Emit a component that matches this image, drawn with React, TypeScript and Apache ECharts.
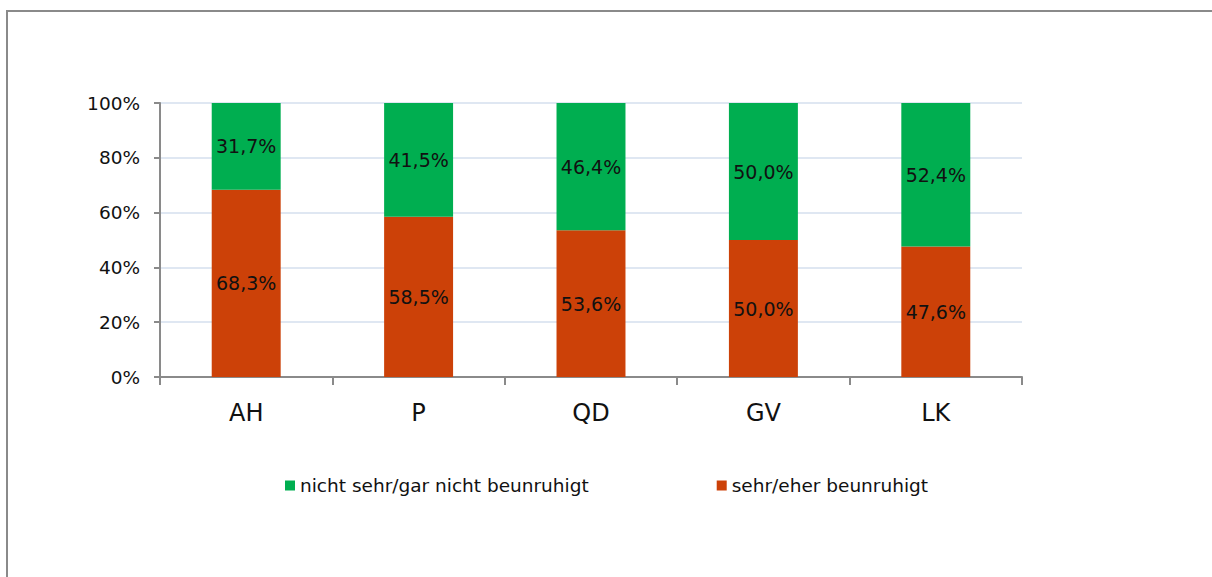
import React, { useEffect, useRef } from "react";
import * as echarts from "echarts";

const categories = ["AH", "P", "QD", "GV", "LK"];
const seriesNames = ["nicht sehr/gar nicht beunruhigt", "sehr/eher beunruhigt"];
const notWorried = [31.7, 41.5, 46.4, 50.0, 52.4];
const worried = [68.3, 58.5, 53.6, 50.0, 47.6];
const yTicks = [0, 20, 40, 60, 80, 100];

const FONT = "DejaVu Sans";

export default function App() {
  const ref = useRef<HTMLDivElement>(null);
  useEffect(() => {
    document.body.style.margin = "0";
    document.body.style.overflow = "hidden";
    const chart = echarts.init(ref.current!, null, { renderer: "svg" });
    const fmt = (p: any) => p.value.toFixed(1).replace(".", ",") + "%";
    chart.setOption({
      animation: false,
      backgroundColor: "#ffffff",
      textStyle: { fontFamily: FONT },
      graphic: [
        {
          type: "rect",
          shape: { x: 7, y: 11, width: 1240, height: 620 },
          style: { fill: "none", stroke: "#8a8a8a", lineWidth: 2 },
          silent: true,
        },
      ],
      grid: { left: 160, top: 103, right: 190, bottom: 200, containLabel: false },
      legend: {
        data: [seriesNames[0], seriesNames[1]],
        top: 471,
        left: 280,
        itemWidth: 10,
        itemHeight: 10,
        itemGap: 128,
        itemStyle: { borderWidth: 0 },
        textStyle: { fontFamily: FONT, fontSize: 18.5, color: "#111" },
        icon: "rect",
      },
      xAxis: {
        type: "category",
        data: categories,
        axisLine: { lineStyle: { color: "#8a8a8a", width: 2 } },
        axisTick: { show: true, length: 8, alignWithLabel: false, lineStyle: { color: "#8a8a8a", width: 2 } },
        axisLabel: { fontFamily: FONT, fontSize: 24, color: "#111", margin: 24 },
      },
      yAxis: {
        type: "value",
        min: yTicks[0],
        max: yTicks[yTicks.length - 1],
        interval: 20,
        axisLine: { show: true, lineStyle: { color: "#8a8a8a", width: 2 } },
        axisTick: { show: true, length: 6, lineStyle: { color: "#8a8a8a", width: 2 } },
        axisLabel: { fontFamily: FONT, fontSize: 18.5, color: "#111", margin: 20, formatter: "{value}%" },
        splitLine: { lineStyle: { color: "#dfe7f2", width: 2 } },
      },
      series: [
        {
          name: seriesNames[1],
          type: "bar",
          stack: "total",
          data: worried,
          barWidth: "40%",
          itemStyle: { color: "#cc4108" },
          label: { show: true, position: "inside", formatter: fmt, fontFamily: FONT, fontSize: 19, color: "#111" },
        },
        {
          name: seriesNames[0],
          type: "bar",
          stack: "total",
          data: notWorried,
          barWidth: "40%",
          itemStyle: { color: "#00ae50" },
          label: { show: true, position: "inside", formatter: fmt, fontFamily: FONT, fontSize: 19, color: "#111" },
        },
      ],
    });
    return () => chart.dispose();
  }, []);
  return <div ref={ref} style={{ width: 1212, height: 577 }} />;
}
